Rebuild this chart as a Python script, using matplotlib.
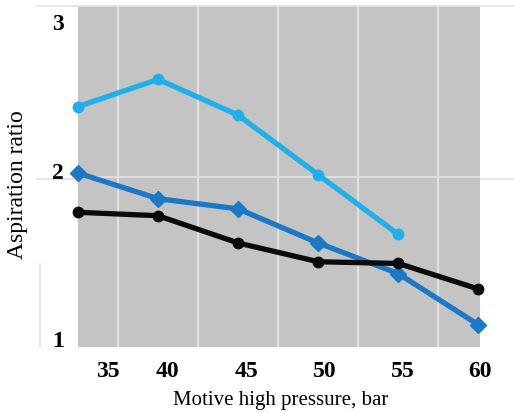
import matplotlib.pyplot as plt
from matplotlib.lines import Line2D

# data
pressure = [35, 40, 45, 50, 55, 60]
ratio_light = [2.41, 2.57, 2.36, 2.01, 1.66]
ratio_blue = [2.02, 1.87, 1.81, 1.61, 1.43, 1.13]
ratio_black = [1.79, 1.77, 1.61, 1.50, 1.49, 1.34]
xtick_labels = ["35", "40", "45", "50", "55", "60"]
ytick_labels = ["1", "2", "3"]

plt.rcParams['font.family'] = ['Liberation Serif', 'DejaVu Serif']

fig = plt.figure(figsize=(5.14, 4.14), dpi=100)
ax = fig.add_axes([0.1518, 0.1594, 0.7822, 0.8237])
ax.set_facecolor('#c4c4c4')

# faint lines of the original frame
fig.add_artist(Line2D([0.072, 1.0], [0.983, 0.983], color='#e4e4e4', lw=1.2))
fig.add_artist(Line2D([0.072, 1.0], [0.565, 0.565], color='#e0e0e0', lw=1.2, zorder=0))
fig.add_artist(Line2D([0.078, 0.078], [0.16, 0.36], color='#e4e4e4', lw=1.2))

ax.plot(pressure[:len(ratio_light)], ratio_light, color='#1fb0ea', lw=3.8,
        marker='o', ms=7.5, zorder=3, clip_on=False)
ax.plot(pressure, ratio_blue, color='#1a78c6', lw=3.8,
        marker='D', ms=8, zorder=3, clip_on=False)
ax.plot(pressure, ratio_black, color='#0a0a0a', lw=3.8,
        marker='o', ms=7.5, zorder=4, clip_on=False)

ax.set_xlim(35, 60)
ax.set_ylim(1, 3)

# white grid between categories
for g in [37.5, 42.5, 47.5, 52.5, 57.5]:
    ax.axvline(g, color='#e6e6e6', lw=1.3, zorder=1)
ax.axhline(2, color='#e0e0e0', lw=1.3, zorder=1)

# tick labels sit a bit off the category centres, as in the original
x_shift = [1.87, 0.6, 0.5, 0.4, 0.3, 0.1]
ax.set_xticks([p + s for p, s in zip(pressure, x_shift)])
ax.set_xticklabels(xtick_labels, fontsize=17, fontweight='bold')
ax.set_yticks([1.05, 2.04, 2.91])
ax.set_yticklabels(ytick_labels, fontsize=17, fontweight='bold')
ax.tick_params(length=0, pad=10)
ax.tick_params(axis='x', pad=9)

for s in ax.spines.values():
    s.set_visible(False)

ax.set_xlabel('Motive high pressure, bar', fontsize=15)
ax.xaxis.set_label_coords(0.505, -0.125)
ax.set_ylabel('Aspiration ratio', fontsize=17)
ax.yaxis.set_label_coords(-0.125, 0.48)

fig.savefig('out.png', dpi=100)
